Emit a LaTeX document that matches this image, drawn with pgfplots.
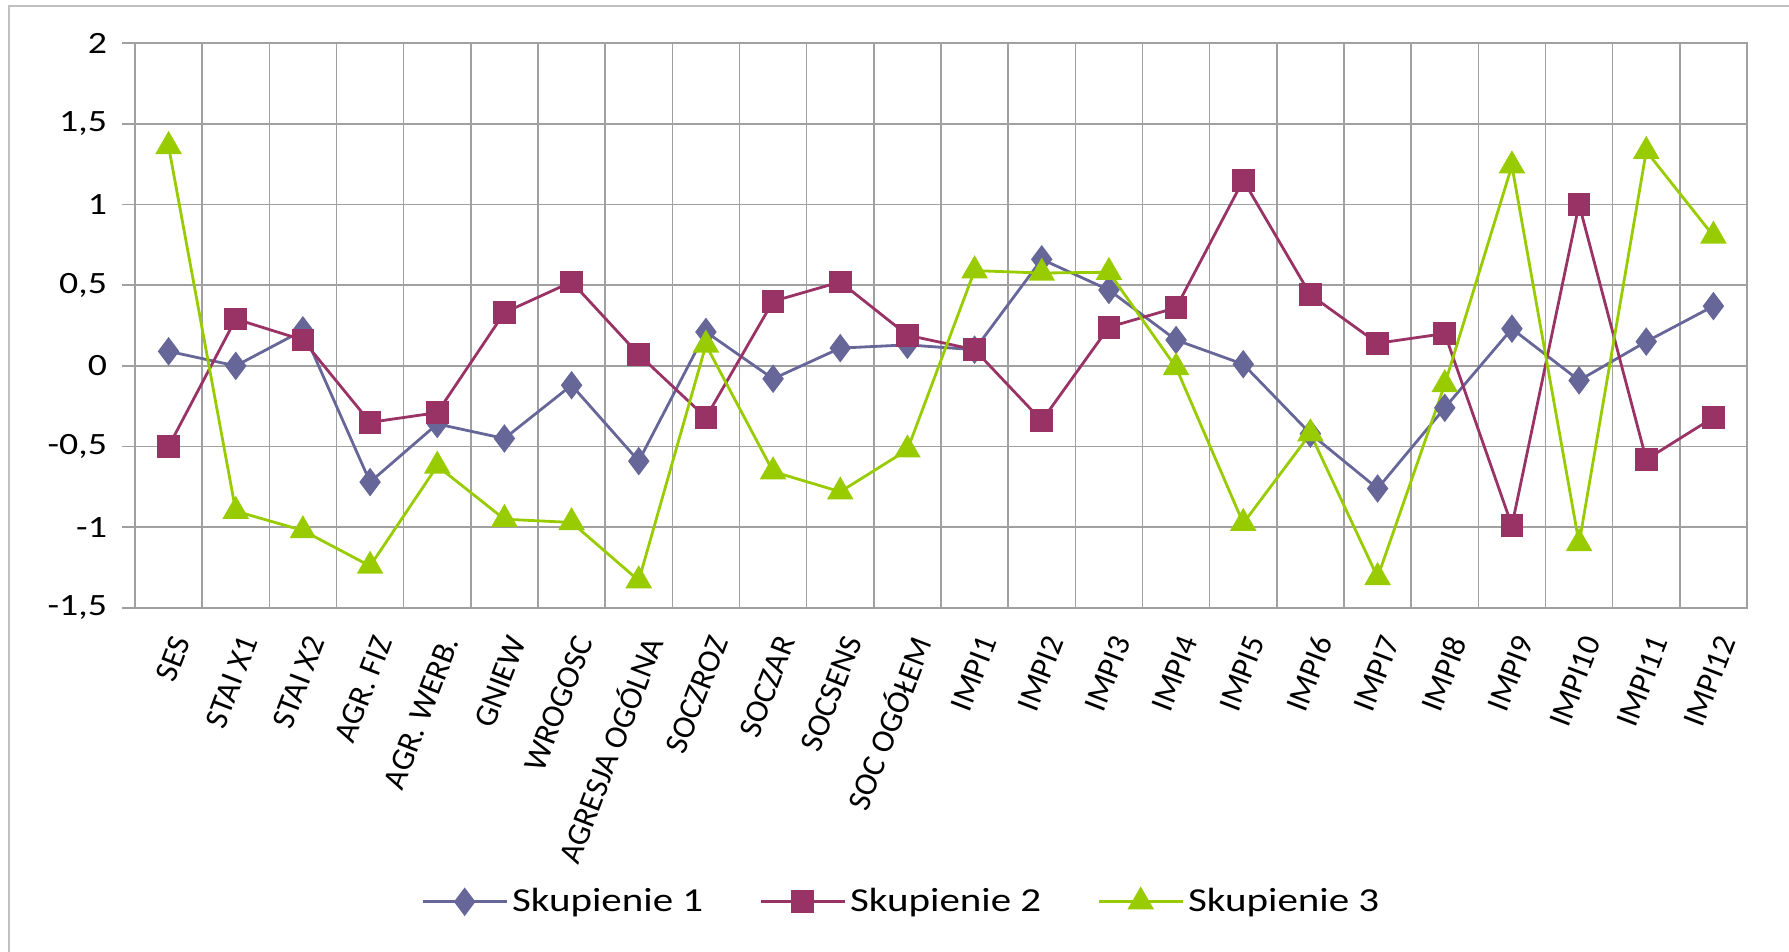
\documentclass[border=0pt]{standalone}
\usepackage{pgfplots}
\pgfplotsset{compat=1.18}
\usepackage{fontspec}
\setmainfont[FakeStretch=1.22]{Carlito}
\newfontfamily\labfont{Carlito}
\definecolor{sOne}{RGB}{102,102,153}
\definecolor{sTwo}{RGB}{153,51,102}
\definecolor{sThree}{RGB}{153,204,0}
\definecolor{gridc}{RGB}{160,160,160}
\definecolor{framec}{RGB}{192,192,192}
\pgfplotsset{myleg/.style={legend image code/.code={\draw[mark repeat=2,mark phase=2,#1] plot coordinates {(0pt,0pt)(21pt,0pt)(42pt,0pt)};}}}
\begin{document}
\begin{tikzpicture}[x=1pt,y=1pt]
\useasboundingbox (0,0) rectangle (894.5,476);
\draw[color=framec, line width=1.2pt] (4.5,0) -- (4.5,473) -- (894.5,473);
\begin{axis}[
  at={(67.5pt,172pt)}, anchor=south west,
  width=806pt, height=282.5pt, scale only axis,
  xmin=0.5, xmax=24.5, ymin=-1.5, ymax=2,
  ytick={-1.5,-1,-0.5,0,0.5,1,1.5,2},
  xtick={1,...,24},
  xticklabels={SES,STAI X1,STAI X2,AGR. FIZ,AGR. WERB.,GNIEW,WROGOSC,AGRESJA OGÓLNA,SOCZROZ,SOCZAR,SOCSENS,SOC OGÓŁEM,IMPI1,IMPI2,IMPI3,IMPI4,IMPI5,IMPI6,IMPI7,IMPI8,IMPI9,IMPI10,IMPI11,IMPI12},
  minor xtick={1.5,2.5,...,23.5},
  xminorgrids, ymajorgrids,
  grid style={gridc, line width=0.8pt},
  minor grid style={gridc, line width=0.8pt},
  axis line style={gridc, line width=0.9pt},
  tick style={gridc, line width=0.8pt},
  xtick style={draw=none},
  minor tick length=0pt,
  ytick pos=left, tick align=outside,
  major tick length=6.5pt,
  yticklabel style={/pgf/number format/.cd, use comma, assume math mode=true, /tikz/.cd, font=\fontsize{15.5}{18}\selectfont, xshift=-4pt},
  xticklabel style={rotate=69, anchor=east, font=\labfont\fontsize{16.2}{18}\selectfont, xshift=-2pt, yshift=-9pt},
  legend columns=3,
  legend style={draw=none, at={(0.476,-0.52)}, anchor=center, font=\fontsize{16.8}{19}\selectfont,
    /tikz/every even column/.append style={column sep=26pt}},
  myleg,
  every axis plot/.append style={line width=1.4pt},
]
\addplot[color=sOne, mark=diamond*, mark size=6pt, mark options={solid, fill=sOne}] coordinates {
(1,0.09) (2,0.00) (3,0.22) (4,-0.72) (5,-0.36) (6,-0.45) (7,-0.12) (8,-0.59) (9,0.21) (10,-0.08) (11,0.11) (12,0.13)
(13,0.10) (14,0.66) (15,0.47) (16,0.16) (17,0.01) (18,-0.42) (19,-0.76) (20,-0.26) (21,0.23) (22,-0.09) (23,0.15) (24,0.37)};
\addlegendentry{Skupienie 1}
\addplot[color=sTwo, mark=square*, mark size=5pt, mark options={solid, fill=sTwo}] coordinates {
(1,-0.50) (2,0.29) (3,0.16) (4,-0.35) (5,-0.29) (6,0.33) (7,0.52) (8,0.07) (9,-0.32) (10,0.40) (11,0.52) (12,0.19)
(13,0.10) (14,-0.34) (15,0.24) (16,0.36) (17,1.15) (18,0.44) (19,0.14) (20,0.20) (21,-0.99) (22,1.00) (23,-0.58) (24,-0.32)};
\addlegendentry{Skupienie 2}
\addplot[color=sThree, mark=triangle*, mark size=6.3pt, mark options={solid, fill=sThree}] coordinates {
(1,1.36) (2,-0.90) (3,-1.02) (4,-1.24) (5,-0.62) (6,-0.95) (7,-0.97) (8,-1.33) (9,0.13) (10,-0.655) (11,-0.78) (12,-0.52)
(13,0.59) (14,0.575) (15,0.58) (16,-0.01) (17,-0.975) (18,-0.42) (19,-1.31) (20,-0.115) (21,1.24) (22,-1.10) (23,1.33) (24,0.805)};
\addlegendentry{Skupienie 3}
\end{axis}
\end{tikzpicture}
\end{document}
